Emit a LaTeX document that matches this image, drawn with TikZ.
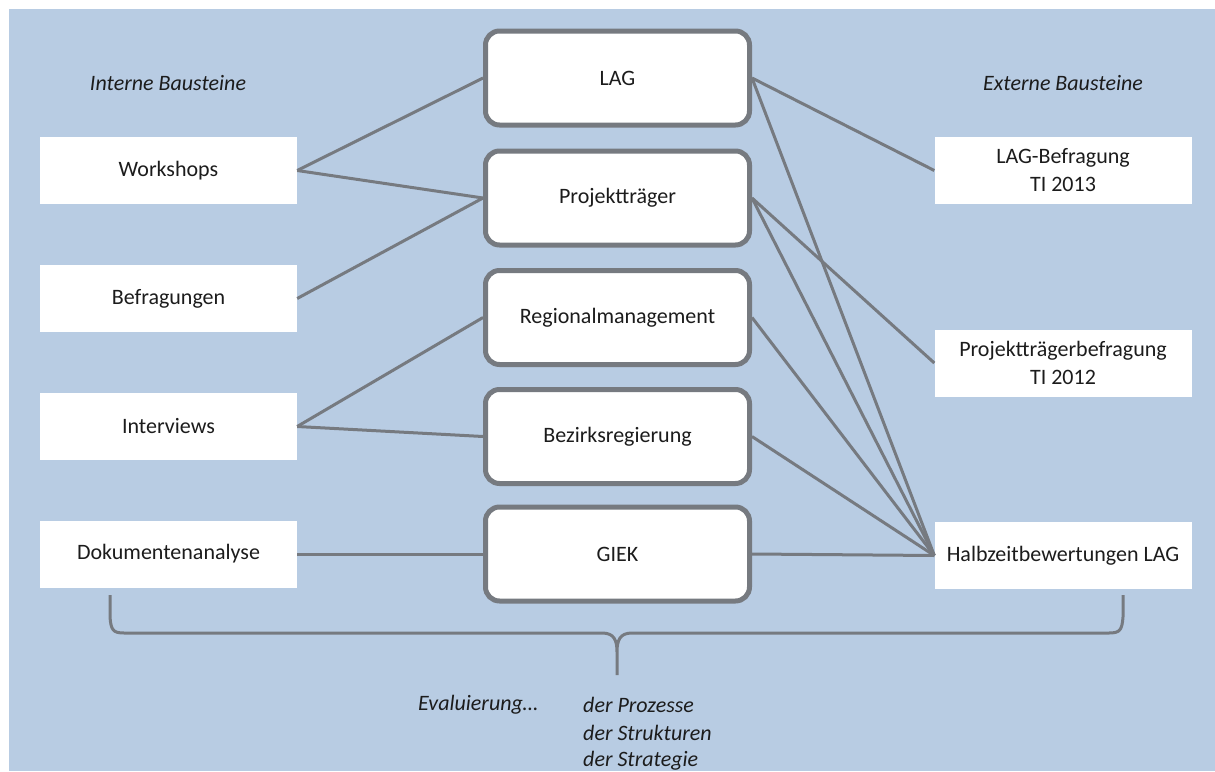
\documentclass[tikz,border=0pt]{standalone}
\usepackage{fontspec}
\setmainfont{Carlito}
\definecolor{bgblue}{HTML}{B8CCE3}
\definecolor{lngray}{HTML}{767A80}
\definecolor{txt}{HTML}{1C1C1C}
\begin{document}
\begin{tikzpicture}[
  x=1pt, y=-1pt,
  font=\fontsize{22}{28}\selectfont, text=txt,
  src/.style={fill=white, minimum width=257pt, minimum height=67pt, inner sep=2pt, align=center},
  hub/.style={draw=lngray, line width=5pt, fill=white, rounded corners=14pt, minimum width=264pt, minimum height=94pt},
  ln/.style={lngray, line width=3pt},
  hd/.style={font=\fontsize{22}{28}\selectfont\itshape, inner sep=0pt}
]
\useasboundingbox (0,0) rectangle (1215,771);
\fill[bgblue] (9,9) rectangle (1215,771);

% --- headings ---
\node[hd] (intern) at (168,83) {Interne Bausteine};
\node[hd] (extern) at (1063,83) {Externe Bausteine};

% --- internal sources (left) ---
\node[src] (ws)  at (168.5,170.5) {Workshops};
\node[src] (bef) at (168.5,298.5) {Befragungen};
\node[src] (int) at (168.5,426.5) {Interviews};
\node[src] (dok) at (168.5,554) {Dokumentenanalyse};

% --- actors (middle) ---
\node[hub] (lag)  at (617.5,78)  {LAG};
\node[hub] (pt)   at (617.5,198) {Projektträger};
\node[hub] (rm)   at (617.5,317.5) {Regionalmanagement};
\node[hub] (bzr)  at (617.5,436.5) {Bezirksregierung};
\node[hub] (giek) at (617.5,554) {GIEK};

% --- external sources (right) ---
\node[src] (lagbef) at (1063,170.5) {LAG-Befragung\\TI 2013};
\node[src] (ptbef)  at (1063,363)   {Projektträgerbefragung\\TI 2012};
\node[src] (hzb)    at (1063,555.5) {Halbzeitbewertungen LAG};

% --- connectors ---
\draw[ln] (ws.east) -- (lag.west);
\draw[ln] (ws.east) -- (pt.west);
\draw[ln] (bef.east) -- (pt.west);
\draw[ln] (int.east) -- (rm.west);
\draw[ln] (int.east) -- (bzr.west);
\draw[ln] (dok.east) -- (giek.west);

\draw[ln] (lag.east) -- (lagbef.west);
\draw[ln] (lag.east) -- (hzb.west);
\draw[ln] (pt.east) -- (ptbef.west);
\draw[ln] (pt.east) -- (hzb.west);
\draw[ln] (rm.east) -- (hzb.west);
\draw[ln] (bzr.east) -- (hzb.west);
\draw[ln] (giek.east) -- (hzb.west);

% --- brace under both columns ---
\coordinate (bl) at (110,595);
\coordinate (br) at (1123,595);
\coordinate (tip) at (617,675);
\draw[ln, line join=round]
  (bl) -- ++(0,22) .. controls (111,630) and (113,633) .. (124,633)
  -- (602,633) .. controls (614,633) and (617,640) .. (617,652) -- (tip)
  (617,652) .. controls (617,640) and (620,633) .. (632,633)
  -- (1109,633) .. controls (1120,633) and (1122,630) .. (1123,617) -- (br);

% --- evaluation note ---
\node[hd, anchor=west] (eval) at (418,705) {Evaluierung\ldots};
\node[hd, anchor=west] (proz) at (583,705) {der Prozesse};
\node[hd, anchor=west] (strk) at (583,733) {der Strukturen};
\node[hd, anchor=west] (strt) at (583,761) {der Strategie};
\end{tikzpicture}
\end{document}
